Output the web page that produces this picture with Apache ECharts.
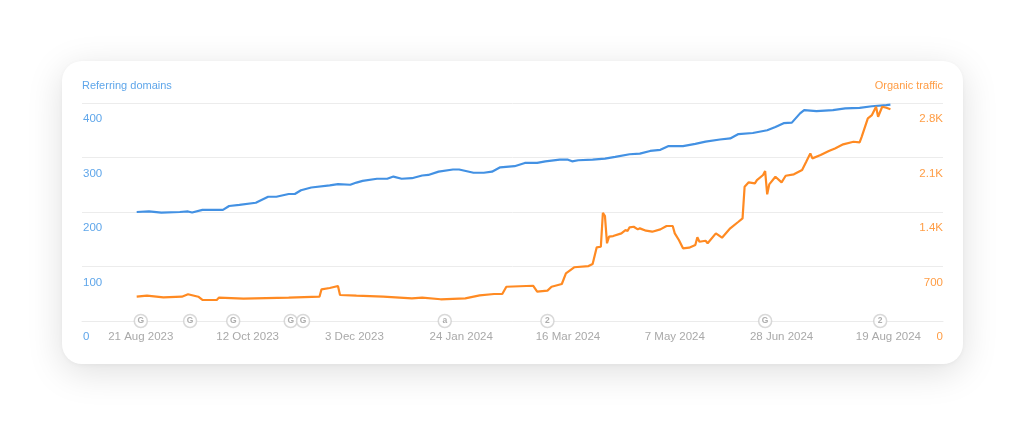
<!DOCTYPE html>
<html>
<head>
<meta charset="utf-8">
<script src="https://cdn.jsdelivr.net/npm/echarts@6/dist/echarts.min.js"></script>
<style>
  html, body { margin:0; padding:0; background:#ffffff; }
  #wrap { position:relative; width:1024px; height:425px; overflow:hidden; background:#ffffff; }
  #card { position:absolute; left:62px; top:61px; width:901px; height:303px; border-radius:20px; background:#ffffff;
          box-shadow: 0 8px 36px rgba(0,0,0,0.13), 0 1px 4px rgba(0,0,0,0.04); }
  #chart { position:absolute; left:0; top:0; width:1024px; height:425px; }
</style>
</head>
<body>
<div id="wrap">
  <div id="card"></div>
  <div id="chart"></div>
</div>
<script>
// Referring domains (left axis)
const rdDates = ['2023-08-19','2023-08-25','2023-08-31','2023-09-09','2023-09-13','2023-09-15','2023-09-20','2023-09-30',
  '2023-10-03','2023-10-08','2023-10-16','2023-10-22','2023-10-26','2023-11-01','2023-11-04','2023-11-07','2023-11-12',
  '2023-11-21','2023-11-25','2023-12-01','2023-12-04','2023-12-07','2023-12-14','2023-12-19','2023-12-22','2023-12-26',
  '2023-12-31','2024-01-05','2024-01-08','2024-01-13','2024-01-20','2024-01-23','2024-01-30','2024-02-04','2024-02-08',
  '2024-02-12','2024-02-19','2024-02-24','2024-03-01','2024-03-05','2024-03-12','2024-03-16','2024-03-18','2024-03-21',
  '2024-03-28','2024-04-03','2024-04-08','2024-04-15','2024-04-20','2024-04-25','2024-04-30','2024-05-04','2024-05-11',
  '2024-05-17','2024-05-22','2024-05-29','2024-06-03','2024-06-07','2024-06-14','2024-06-21','2024-06-25','2024-06-29',
  '2024-07-03','2024-07-07','2024-07-09','2024-07-15','2024-07-23','2024-07-29','2024-08-05','2024-08-11','2024-08-18','2024-08-20'];
const rdValues = [200,201,199,200,201,199,204,204,
  211,213,217,228,228,233,233,240,245,
  249,251,250,254,257,261,261,265,261,
  262,267,268,274,278,278,272,272,274,
  282,284,290,290,293,296,296,293,295,
  296,298,301,306,307,312,314,321,321,
  325,329,333,335,343,345,350,356,363,
  364,381,387,385,387,390,391,394,396,397];

// Organic traffic (right axis)
const otDates = ['2023-08-19','2023-08-24','2023-09-01','2023-09-10','2023-09-13','2023-09-18','2023-09-20','2023-09-27',
  '2023-09-28','2023-10-10','2023-11-01','2023-11-16','2023-11-17','2023-11-21','2023-11-25','2023-11-26','2023-12-04',
  '2023-12-17','2023-12-31','2024-01-05','2024-01-14','2024-01-26','2024-02-02','2024-02-09','2024-02-13','2024-02-15',
  '2024-02-28','2024-03-01','2024-03-06','2024-03-08','2024-03-13','2024-03-15','2024-03-19','2024-03-26','2024-03-28',
  '2024-03-30','2024-04-01','2024-04-02','2024-04-03','2024-04-04','2024-04-05','2024-04-07','2024-04-11','2024-04-13',
  '2024-04-14','2024-04-15','2024-04-17','2024-04-19','2024-04-20','2024-04-23','2024-04-26','2024-04-30','2024-05-03',
  '2024-05-06','2024-05-07','2024-05-09','2024-05-11','2024-05-14','2024-05-17','2024-05-18','2024-05-19','2024-05-22',
  '2024-05-23','2024-05-27','2024-05-30','2024-06-03','2024-06-07','2024-06-09','2024-06-10','2024-06-12','2024-06-15',
  '2024-06-16','2024-06-19','2024-06-20','2024-06-21','2024-06-22','2024-06-25','2024-06-28','2024-06-30','2024-07-04',
  '2024-07-08','2024-07-10','2024-07-12','2024-07-13','2024-07-17','2024-07-21','2024-07-24','2024-07-28','2024-08-02',
  '2024-08-05','2024-08-06','2024-08-09','2024-08-11','2024-08-13','2024-08-14','2024-08-16','2024-08-18','2024-08-20'];
const otValues = [312,325,304,312,343,312,270,270,
  300,287,300,312,407,424,449,334,325,
  312,291,300,279,291,330,347,347,440,
  453,377,390,440,475,612,690,706,732,
  946,954,1391,1348,998,1083,1091,1126,1168,
  1155,1203,1211,1177,1190,1160,1147,1177,1220,
  1220,1126,1040,933,942,976,1075,1018,1031,
  998,1126,1070,1190,1275,1318,1724,1781,1768,
  1810,1875,1926,1627,1755,1853,1781,1866,1884,
  1939,2045,2153,2089,2131,2183,2217,2269,2302,
  2294,2366,2603,2645,2752,2623,2752,2739,2720];

// Event annotations on the date axis
const markerDates = ['2023-08-21','2023-09-14','2023-10-05','2023-11-02','2023-11-08','2024-01-16','2024-03-06','2024-06-20','2024-08-15'];
const markerLabels = ['G','G','G','G','G','a','2','G','2'];

// Axis tick labels
const xTickDates = ['2023-08-21','2023-10-12','2023-12-03','2024-01-24','2024-03-16','2024-05-07','2024-06-28','2024-08-19'];
const leftTicks = [0,100,200,300,400];
const rightTicks = [0,700,1400,2100,2800];
const rightTickLabels = ['0','700','1.4K','2.1K','2.8K'];

const MONTHS = ['Jan','Feb','Mar','Apr','May','Jun','Jul','Aug','Sep','Oct','Nov','Dec'];
const DAY = 86400000;
const BASE = Date.UTC(2023, 7, 21);
// day number relative to 21 Aug 2023
const dayOf = s => { const p = s.split('-').map(Number); return Math.round((Date.UTC(p[0], p[1]-1, p[2]) - BASE) / DAY); };
const dateLabel = n => { const d = new Date(BASE + Math.round(n) * DAY); return d.getUTCDate() + ' ' + MONTHS[d.getUTCMonth()] + ' ' + d.getUTCFullYear(); };

const xMin = -28.63;
const xMax = dayOf('2024-08-19') + 26.6;

const blue = '#4391e3';
const blueText = '#5fa6ea';
const orange = '#ff8a22';
const orangeText = '#ff9d45';
const FONT = '"Liberation Sans", Arial, Helvetica, sans-serif';

const chart = echarts.init(document.getElementById('chart'), null, { renderer: 'canvas' });
chart.setOption({
  backgroundColor: 'transparent',
  animation: false,
  grid: { left: 82, right: 81, top: 103, bottom: 104, containLabel: false },
  graphic: [
    { type: 'text', left: 82, top: 80, style: { text: 'Referring domains', fill: blueText, font: '11px ' + FONT } },
    { type: 'text', right: 81, top: 80, style: { text: 'Organic traffic', fill: orangeText, font: '11px ' + FONT } }
  ],
  xAxis: {
    type: 'value',
    min: xMin,
    max: xMax,
    axisLine: { show: true, lineStyle: { color: '#ebebeb', width: 1 } },
    axisTick: { show: false },
    splitLine: { show: false },
    axisLabel: {
      customValues: xTickDates.map(dayOf),
      formatter: v => dateLabel(v),
      color: '#a9a9a9',
      fontFamily: FONT,
      fontSize: 11.5,
      margin: 10,
      hideOverlap: false
    }
  },
  yAxis: [
    {
      type: 'value', position: 'left', min: 0, max: 400, interval: 100,
      axisLine: { show: false }, axisTick: { show: false },
      splitLine: { show: true, lineStyle: { color: '#ececec', width: 1 } },
      axisLabel: {
        inside: true, margin: 1, verticalAlign: 'top', padding: [10, 0, 0, 0],
        color: blueText, fontFamily: FONT, fontSize: 11.5,
        formatter: v => leftTicks.indexOf(v) >= 0 ? String(v) : ''
      }
    },
    {
      type: 'value', position: 'right', min: 0, max: 2800, interval: 700,
      axisLine: { show: false }, axisTick: { show: false },
      splitLine: { show: false },
      axisLabel: {
        inside: true, margin: 0, verticalAlign: 'top', padding: [10, 0, 0, 0],
        color: orangeText, fontFamily: FONT, fontSize: 11.5,
        formatter: v => { const i = rightTicks.indexOf(v); return i >= 0 ? rightTickLabels[i] : ''; }
      }
    }
  ],
  series: [
    {
      name: 'Referring domains', type: 'line', yAxisIndex: 0, showSymbol: false, z: 3,
      lineStyle: { color: blue, width: 2.2 }, itemStyle: { color: blue },
      data: rdDates.map((d, i) => [dayOf(d), rdValues[i]])
    },
    {
      name: 'Organic traffic', type: 'line', yAxisIndex: 1, showSymbol: false, z: 4,
      lineStyle: { color: orange, width: 2.2 }, itemStyle: { color: orange },
      data: otDates.map((d, i) => [dayOf(d), otValues[i]])
    },
    {
      name: 'Annotations', type: 'scatter', yAxisIndex: 0, clip: false, z: 6,
      symbol: 'circle', symbolSize: 13,
      itemStyle: { color: '#ffffff', borderColor: '#d0d0d0', borderWidth: 1.5 },
      label: {
        show: true, position: 'inside', color: '#999999', fontFamily: FONT, fontSize: 8.5, fontWeight: 'bold',
        formatter: p => p.data.name
      },
      data: markerDates.map((d, i) => ({ name: markerLabels[i], value: [dayOf(d), 0] }))
    }
  ]
});
</script>
</body>
</html>
